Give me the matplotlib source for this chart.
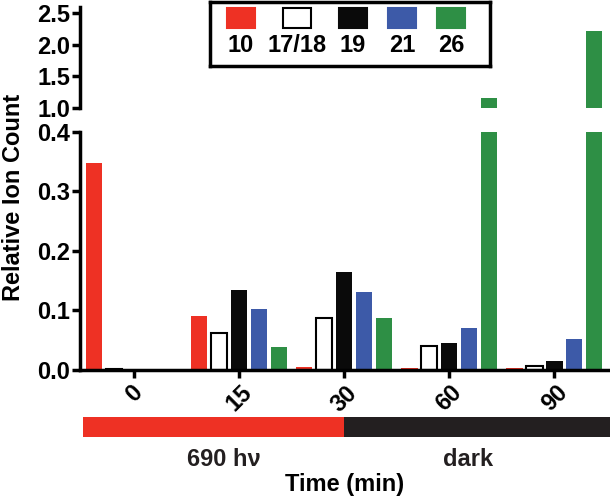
import numpy as np
import matplotlib.pyplot as plt
from matplotlib.patches import Rectangle

plt.rcParams['font.family'] = ['Liberation Sans', 'DejaVu Sans']
plt.rcParams['font.weight'] = 'bold'

times = ['0', '15', '30', '60', '90']
series = ['10', '17/18', '19', '21', '26']
colors = ['#ee3124', 'white', '#0a0a0a', '#3d5aa8', '#2e8f45']

vals_10 = [0.348, 0.090, 0.005, 0.003, 0.004]
vals_1718 = [0.002, 0.063, 0.087, 0.040, 0.007]
vals_19 = [0.0, 0.134, 0.165, 0.045, 0.015]
vals_21 = [0.0, 0.102, 0.131, 0.070, 0.052]
vals_26 = [0.002, 0.038, 0.088, 1.15, 2.22]
data = [vals_10, vals_1718, vals_19, vals_21, vals_26]

phases = ['690 h\u03bd', 'dark']
phase_colors = ['#ee3124', '#231f20']
phase_edges = [-0.49, 2.0, 4.53]

fs = 17

fig = plt.figure(figsize=(6.1, 4.96), dpi=100)
ax_lo = fig.add_axes([0.1311, 0.254, 0.869, 0.480])
ax_hi = fig.add_axes([0.1311, 0.7823, 0.869, 0.2042])

x = np.arange(len(times))
w = 0.155
step = 0.19
for i, (vals, c) in enumerate(zip(data, colors)):
    off = (i - 2) * step
    for ax in (ax_lo, ax_hi):
        ax.bar(x + off, vals, width=w, color=c,
               edgecolor='black' if c == 'white' else 'none',
               linewidth=1.5)

xlim = (-0.515, 4.53)
for ax in (ax_lo, ax_hi):
    ax.set_xlim(*xlim)
    ax.spines['top'].set_visible(False)
    ax.spines['right'].set_visible(False)
    ax.spines['left'].set_linewidth(2.5)
    ax.spines['bottom'].set_linewidth(2.5)
    ax.tick_params(axis='y', length=6, width=2.5, labelsize=fs, pad=1)

ax_lo.set_ylim(0, 0.4)
ax_lo.set_yticks([0.0, 0.1, 0.2, 0.3, 0.4])
ax_lo.set_yticklabels(['0.0', '0.1', '0.2', '0.3', '0.4'])
ax_lo.set_xticks(x)
ax_lo.set_xticklabels(times, rotation=45, ha='center', va='top')
ax_lo.tick_params(axis='x', length=6, width=2.5, labelsize=fs, pad=2)

ax_hi.set_ylim(1.0, 2.6)
ax_hi.set_yticks([1.0, 1.5, 2.0, 2.5])
ax_hi.set_yticklabels(['1.0', '1.5', '2.0', '2.5'])
ax_hi.spines['bottom'].set_visible(False)
ax_hi.set_xticks([])

fig.text(14 / 610, 1 - 197 / 496, 'Relative Ion Count', rotation=90,
         ha='center', va='center', fontsize=fs, fontweight='bold')

# light / dark bar under the axis
ax_bar = fig.add_axes([0.1311, 1 - 437 / 496, 0.869, 20 / 496])
for j in range(len(phases)):
    ax_bar.barh(0, phase_edges[j + 1] - phase_edges[j], left=phase_edges[j],
                height=1, color=phase_colors[j])
ax_bar.set_xlim(*xlim)
ax_bar.set_ylim(-0.5, 0.5)
ax_bar.axis('off')
for lab, px in zip(phases, [0.85, 3.18]):
    ax_bar.text(px, -1.6, lab, ha='center', va='center', fontsize=fs,
                fontweight='bold', color='#231f20')
fig.text(0.5656, 1 - 484 / 496, 'Time (min)', ha='center', va='center',
         fontsize=fs, fontweight='bold')

# legend with swatches above labels
ax_leg = fig.add_axes([210 / 610, 1 - 66 / 496, 280 / 610, 64 / 496])
ax_leg.set_xlim(0, 280)
ax_leg.set_ylim(64, 0)
ax_leg.set_xticks([])
ax_leg.set_yticks([])
for s in ax_leg.spines.values():
    s.set_linewidth(2.5)
centers = [31, 87, 143, 192, 241]
for lab, c, cx in zip(series, colors, centers):
    ax_leg.add_patch(Rectangle((cx - 14, 6), 28, 20, facecolor=c,
                               edgecolor='black' if c == 'white' else c,
                               linewidth=1.5))
    ax_leg.text(cx, 44, lab, ha='center', va='center', fontsize=fs,
                fontweight='bold')

fig.savefig('out.png', dpi=100)
